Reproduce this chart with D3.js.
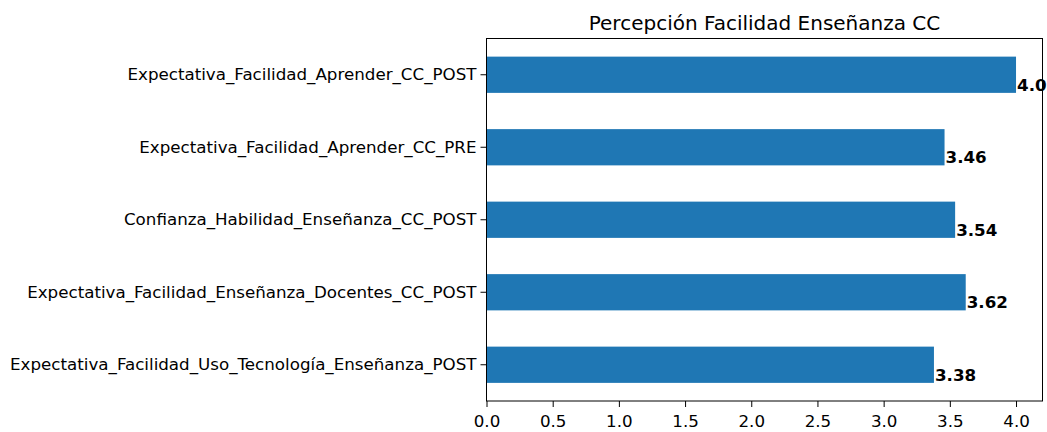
<!DOCTYPE html>
<html><head><meta charset="utf-8">
<script src="https://cdn.jsdelivr.net/npm/d3@7"></script>
<style>body{margin:0;background:#fff}svg{display:block}text{font-family:"DejaVu Sans",sans-serif}</style>
</head><body>
<script>
const categories = [
  "Expectativa_Facilidad_Aprender_CC_POST",
  "Expectativa_Facilidad_Aprender_CC_PRE",
  "Confianza_Habilidad_Enseñanza_CC_POST",
  "Expectativa_Facilidad_Enseñanza_Docentes_CC_POST",
  "Expectativa_Facilidad_Uso_Tecnología_Enseñanza_POST"
];
const values = [4.0, 3.46, 3.54, 3.62, 3.38];
const valueLabels = ["4.0", "3.46", "3.54", "3.62", "3.38"];
const xTicks = [0, 0.5, 1.0, 1.5, 2.0, 2.5, 3.0, 3.5, 4.0];
const title = "Percepción Facilidad Enseñanza CC";

const W = 1047, H = 432;
const L = 486.5, R = 1042.5, T = 38.5, B = 401;
const FS = 16.7;
const svg = d3.select("body").append("svg").attr("width", W).attr("height", H);

const x = d3.scaleLinear().domain([0, 4.2]).range([L, R]);
const y = d3.scaleBand().domain(categories).range([T, B]).paddingInner(0.5).paddingOuter(0.25);

svg.append("g").selectAll("rect").data(categories).join("rect")
  .attr("x", x(0)).attr("y", d => y(d))
  .attr("width", (d, i) => x(values[i]) - x(0))
  .attr("height", y.bandwidth())
  .attr("fill", "#1f77b4");

svg.append("g").selectAll("text").data(categories).join("text")
  .attr("x", (d, i) => x(values[i]) + 1)
  .attr("y", d => y(d) + y.bandwidth() / 2 + 16)
  .attr("font-size", FS).attr("font-weight", "bold").attr("fill", "#000")
  .text((d, i) => valueLabels[i]);

// frame
svg.append("rect").attr("x", L).attr("y", T).attr("width", R - L).attr("height", B - T)
  .attr("fill", "none").attr("stroke", "#000").attr("stroke-width", 1);

const xAxis = svg.append("g").attr("transform", `translate(0,${B})`)
  .call(d3.axisBottom(x).tickValues(xTicks).tickFormat(d3.format(".1f")).tickSize(6).tickPadding(8));
xAxis.select(".domain").remove();
xAxis.selectAll("text").attr("font-size", FS).attr("fill", "#000").attr("font-family", "DejaVu Sans");

const yAxis = svg.append("g").attr("transform", `translate(${L},0)`)
  .call(d3.axisLeft(y).tickSize(6).tickPadding(4));
yAxis.select(".domain").remove();
yAxis.selectAll("text").attr("font-size", FS).attr("fill", "#000").attr("font-family", "DejaVu Sans");

svg.append("text").attr("x", (L + R) / 2).attr("y", 30).attr("text-anchor", "middle")
  .attr("font-size", 20).attr("fill", "#000").text(title);
</script>
</body></html>
